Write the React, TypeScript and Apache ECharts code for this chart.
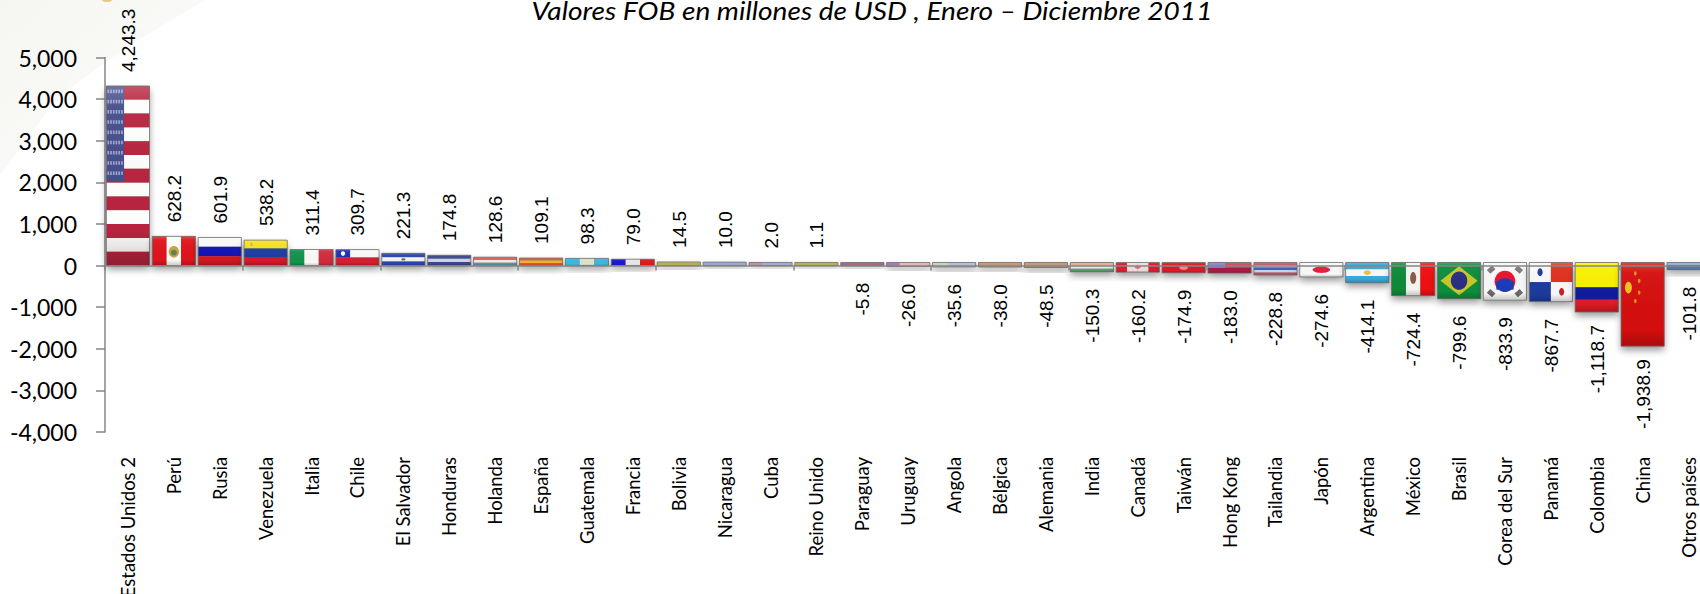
import React, { useEffect, useRef } from "react";
import * as echarts from "echarts";

const categories = ["Estados Unidos 2","Perú","Rusia","Venezuela","Italia","Chile","El Salvador","Honduras","Holanda","España","Guatemala","Francia","Bolivia","Nicaragua","Cuba","Reino Unido","Paraguay","Uruguay","Angola","Bélgica","Alemania","India","Canadá","Taiwán","Hong Kong","Tailandia","Japón","Argentina","México","Brasil","Corea del Sur","Panamá","Colombia","China","Otros países"];
const values = [4243.3,628.2,601.9,538.2,311.4,309.7,221.3,174.8,128.6,109.1,98.3,79.0,14.5,10.0,2.0,1.1,-5.8,-26.0,-35.6,-38.0,-48.5,-150.3,-160.2,-174.9,-183.0,-228.8,-274.6,-414.1,-724.4,-799.6,-833.9,-867.7,-1118.7,-1938.9,-101.8];
const titleText = "Valores FOB en millones de USD , Enero – Diciembre 2011";

type P = any[];
const hs = (...c: string[]): P[] => c.map((col, i) => ["r", 0, i / c.length, 1, 1 / c.length, col]);
const vs = (...c: string[]): P[] => c.map((col, i) => ["r", i / c.length, 0, 1 / c.length, 1, col]);
const usStripes = Array.from({ length: 13 }, (_, i) => (i % 2 ? "#fdfdfb" : "#b8243f"));
const usCanton: P[] = [["r", 0, 0, 0.41, 0.53, "#454e8c"]];
for (let k = 0; k < 9; k++) {
  for (let j = 0; j < 6; j++) usCanton.push(["r", 0.025 + j * 0.063, 0.02 + k * 0.057, 0.04, 0.02, "#9aa2cc"]);
}

const flags: P[][] = [
  [...hs(...usStripes), ...usCanton],
  [...vs("#e0141c", "#fbfbf8", "#e0141c"), ["e", 0.5, 0.53, 0.12, 0.2, "#c9a24a"], ["e", 0.5, 0.56, 0.07, 0.1, "#5c8a4a"]],
  hs("#f8f8f8", "#1414b4", "#d01820"),
  [...hs("#f4e020", "#1f3fa0", "#d8182c"), ["e", 0.17, 0.16, 0.03, 0.08, "#c8bd55"]],
  vs("#11924c", "#f8f8f4", "#d22c3c"),
  [["r", 0, 0, 1, 0.5, "#f8f8f8"], ["r", 0, 0.5, 1, 0.5, "#d4202c"], ["r", 0, 0, 0.33, 0.5, "#1a30b8"], ["e", 0.165, 0.25, 0.05, 0.14, "#ffffff"]],
  [...hs("#2846ae", "#f4f4f4", "#2846ae"), ["e", 0.5, 0.5, 0.05, 0.1, "#5b7a5b"]],
  hs("#3a4690", "#cfd2e8", "#3a4690"),
  hs("#e0605c", "#f6e8e6", "#5b93a6"),
  hs("#d8553a", "#f0b428", "#d8553a"),
  vs("#3cb8de", "#dde2c8", "#3cb8de"),
  vs("#1818d8", "#e8e8e8", "#e41818"),
  [["r", 0, 0, 1, 1, "#b8b052"]],
  [["r", 0, 0, 1, 1, "#9aaad4"]],
  [["r", 0, 0, 1, 1, "#9eaed2"], ["r", 0, 0, 0.3, 1, "#c08ea8"]],
  [["r", 0, 0, 1, 1, "#b9b152"]],
  [["r", 0, 0, 1, 1, "#a46a80"]],
  [["r", 0, 0, 1, 1, "#eab4bc"], ["r", 0, 0, 0.3, 1, "#aa78b4"]],
  [["r", 0, 0, 1, 1, "#b4c0dc"], ["r", 0, 0, 0.35, 1, "#cfd2c0"]],
  [["r", 0, 0, 1, 1, "#c99872"]],
  [["r", 0, 0, 1, 1, "#c99a72"]],
  hs("#e4ad8a", "#e8ebe0", "#5f9c76"),
  [...vs("#dc1c2c", "#f0dcdc", "#f0dcdc", "#dc1c2c"), ["e", 0.5, 0.5, 0.07, 0.16, "#dd7078"]],
  [["r", 0, 0, 1, 1, "#dc1a28"], ["e", 0.5, 0.5, 0.1, 0.2, "#ee8a90"]],
  [...hs("#c84a60", "#a81c44"), ["r", 0, 0, 0.4, 0.5, "#7c8cc8"]],
  hs("#c8566a", "#c4d4ec", "#3c64b4", "#c4d4ec", "#c8566a"),
  [["r", 0, 0, 1, 1, "#f8f8f8"], ["e", 0.5, 0.5, 0.2, 0.22, "#e4203c"]],
  [...hs("#38aad8", "#f8f8f8", "#38aad8"), ["e", 0.5, 0.5, 0.08, 0.12, "#f0c040"]],
  [...vs("#0e8a38", "#f4f4f0", "#ee1010"), ["e", 0.5, 0.47, 0.07, 0.18, "#8a5a48"]],
  [["r", 0, 0, 1, 1, "#0f8c3c"], ["p", [[0.07, 0.5], [0.5, 0.1], [0.93, 0.5], [0.5, 0.9]], "#c4c828"], ["e", 0.5, 0.5, 0.19, 0.25, "#2a2f84"]],
  [["r", 0, 0, 1, 1, "#f8f8f8"], ["e", 0.5, 0.5, 0.24, 0.28, "#e8142c"], ["r", 0.3, 0.5, 0.4, 0.22, "#1c3cb8"], ["e", 0.5, 0.6, 0.2, 0.18, "#1c3cb8"], ["p", [[0.08, 0.2], [0.2, 0.08], [0.28, 0.18], [0.16, 0.3]], "#7a7a7a"], ["p", [[0.72, 0.18], [0.8, 0.08], [0.92, 0.2], [0.84, 0.3]], "#7a7a7a"], ["p", [[0.08, 0.8], [0.16, 0.7], [0.28, 0.82], [0.2, 0.92]], "#6a6a6a"], ["p", [[0.72, 0.82], [0.84, 0.7], [0.92, 0.8], [0.8, 0.92]], "#6a6a6a"]],
  [["r", 0, 0, 1, 1, "#f8f8f8"], ["r", 0.5, 0, 0.5, 0.5, "#e03020"], ["r", 0, 0.5, 0.5, 0.5, "#1c3c9c"], ["e", 0.25, 0.25, 0.06, 0.1, "#1c3c9c"], ["e", 0.75, 0.75, 0.06, 0.1, "#c82030"]],
  [["r", 0, 0, 1, 0.5, "#f8f000"], ["r", 0, 0.5, 1, 0.25, "#101c9c"], ["r", 0, 0.75, 1, 0.25, "#e01c24"]],
  [["r", 0, 0, 1, 1, "#d40e0e"], ["e", 0.17, 0.3, 0.08, 0.07, "#f0c020"], ["e", 0.33, 0.13, 0.03, 0.025, "#e8901c"], ["e", 0.42, 0.22, 0.03, 0.025, "#e8901c"], ["e", 0.42, 0.36, 0.03, 0.025, "#e8901c"], ["e", 0.33, 0.46, 0.03, 0.025, "#e8901c"]],
  hs("#9ab0cc", "#4c78b4", "#4c78b4"),
];

function renderBar(_: any, api: any) {
  const i = api.value(0);
  const v = api.value(1);
  const pv = api.coord([i, v]);
  const p0 = api.coord([i, 0]);
  const w = api.size([1, 0])[0] * 0.94;
  const x = pv[0] - w / 2;
  const pad = 3;
  const top = v >= 0 ? pv[1] - pad : p0[1] - pad;
  const bottom = v >= 0 ? p0[1] : pv[1];
  const h = bottom - top;
  const kids: any[] = [];
  kids.push({ type: "rect", shape: { x, y: top, width: w, height: h }, style: { fill: "#888", shadowBlur: 7, shadowOffsetY: 4, shadowColor: "rgba(0,0,0,0.4)" } });
  for (const f of flags[i]) {
    if (f[0] === "r") {
      kids.push({ type: "rect", shape: { x: x + f[1] * w, y: top + f[2] * h, width: f[3] * w, height: f[4] * h }, style: { fill: f[5] } });
    } else if (f[0] === "e") {
      kids.push({ type: "ellipse", shape: { cx: x + f[1] * w, cy: top + f[2] * h, rx: f[3] * w, ry: f[4] * h }, style: { fill: f[5] } });
    } else {
      kids.push({ type: "polygon", shape: { points: f[1].map((q: number[]) => [x + q[0] * w, top + q[1] * h]) }, style: { fill: f[2] } });
    }
  }
  kids.push({
    type: "rect",
    shape: { x, y: top, width: w, height: h },
    style: {
      fill: new echarts.graphic.LinearGradient(0, 0, 0, 1, [
        { offset: 0, color: "rgba(255,255,255,0.22)" },
        { offset: 0.12, color: "rgba(255,255,255,0.04)" },
        { offset: 0.8, color: "rgba(0,0,0,0)" },
        { offset: 1, color: "rgba(0,0,0,0.2)" },
      ]),
      stroke: "rgba(110,110,110,0.75)",
      lineWidth: 1,
    },
  });
  const text = Number(v).toLocaleString("en-US", { minimumFractionDigits: 1, maximumFractionDigits: 1 });
  const off = v >= 0 ? 17 : text.length >= 8 ? 13 : 17;
  kids.push({
    type: "text",
    x: pv[0] + 0.5,
    y: v >= 0 ? pv[1] - off : pv[1] + off,
    rotation: Math.PI / 2,
    style: {
      text,
      align: v >= 0 ? "left" : "right",
      verticalAlign: "middle",
      fontFamily: "Liberation Sans",
      fontSize: 19,
      fill: "#000",
    },
  });
  return { type: "group", children: kids };
}

export default function App() {
  const ref = useRef<HTMLDivElement>(null);
  useEffect(() => {
    const chart = echarts.init(ref.current!, null, { renderer: "svg" });
    const axisColor = "#868686";
    chart.setOption({
      animation: false,
      backgroundColor: "#ffffff",
      grid: { left: 105, top: 57.5, width: 1606.5, height: 374.4, containLabel: false, outerBoundsMode: "none" },
      graphic: [
        {
          type: "polygon",
          z: -1,
          silent: true,
          shape: { points: [[0, 0], [205, 0], [130, 45], [60, 95], [0, 175]] },
          style: {
            fill: new echarts.graphic.LinearGradient(0, 0, 1, 1, [
              { offset: 0, color: "#f5f5f2" },
              { offset: 0.6, color: "#fafaf8" },
              { offset: 1, color: "#fefefe" },
            ]),
          },
        },
        { type: "ellipse", silent: true, shape: { cx: 107, cy: 0, rx: 5, ry: 2 }, style: { fill: "#e8c680" } },
        {
          type: "text",
          x: 872,
          y: 11,
          scaleX: 1.124,
          silent: true,
          style: {
            text: titleText,
            align: "center",
            verticalAlign: "middle",
            fontFamily: "Lato",
            fontStyle: "italic",
            fontSize: 25,
            fill: "#000",
          },
        },
      ],
      xAxis: [
        {
          type: "category",
          data: categories,
          z: 5,
          axisLine: { onZero: true, lineStyle: { color: axisColor, width: 1.5 } },
          axisTick: { show: true, length: 5, lineStyle: { color: axisColor, width: 1.5 } },
          axisLabel: { show: false },
        },
        {
          type: "category",
          position: "bottom",
          data: categories,
          axisLine: { show: false, onZero: false },
          axisTick: { show: false },
          axisLabel: {
            show: true,
            interval: 0,
            rotate: 90,
            margin: 25,
            fontFamily: "Lato",
            fontSize: 18.5,
            color: "#000",
          },
        },
      ],
      yAxis: {
        type: "value",
        min: -4000,
        max: 5000,
        interval: 1000,
        splitLine: { show: false },
        axisLine: { show: true, lineStyle: { color: axisColor, width: 1.5 } },
        axisTick: { show: true, length: 9, lineStyle: { color: axisColor, width: 1.5 } },
        axisLabel: {
          margin: 28,
          fontFamily: "Lato",
          fontSize: 23,
          color: "#000",
          formatter: (v: number) => v.toLocaleString("en-US"),
        },
      },
      series: [
        {
          type: "custom",
          xAxisIndex: 0,
          yAxisIndex: 0,
          clip: false,
          data: values.map((v, i) => [i, v]),
          encode: { x: 0, y: 1 },
          renderItem: renderBar,
        },
      ],
    });
    return () => chart.dispose();
  }, []);
  return <div ref={ref} style={{ position: "absolute", left: 0, top: 0, width: 1700, height: 594 }} />;
}
